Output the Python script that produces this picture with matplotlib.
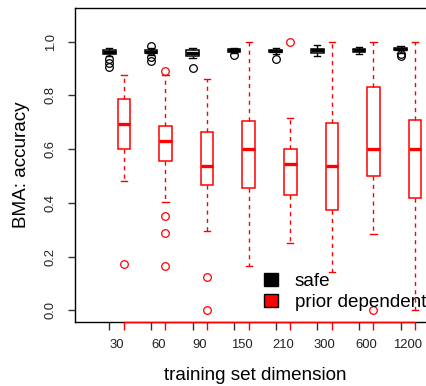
import matplotlib
matplotlib.use("Agg")
import matplotlib.pyplot as plt
from matplotlib.patches import Patch

plt.style.use('default')
plt.rcParams['font.family'] = ['Liberation Sans', 'DejaVu Sans']

categories = ["30", "60", "90", "150", "210", "300", "600", "1200"]

# safe (black) box stats
safe_whislo = [0.945, 0.950, 0.938, 0.958, 0.955, 0.947, 0.954, 0.958]
safe_q1     = [0.955, 0.957, 0.947, 0.962, 0.960, 0.958, 0.962, 0.967]
safe_med    = [0.962, 0.962, 0.957, 0.967, 0.965, 0.967, 0.967, 0.972]
safe_q3     = [0.967, 0.967, 0.969, 0.971, 0.970, 0.974, 0.971, 0.977]
safe_whishi = [0.978, 0.975, 0.975, 0.976, 0.977, 0.987, 0.979, 0.982]
safe_fliers = [[0.934, 0.920, 0.907], [0.985, 0.944, 0.928], [0.901], [0.950],
               [0.935], [], [], [0.947, 0.955]]

# prior dependent (red) box stats
prior_whislo = [0.480, 0.404, 0.294, 0.167, 0.250, 0.143, 0.286, 0.000]
prior_q1     = [0.600, 0.557, 0.465, 0.454, 0.428, 0.374, 0.501, 0.418]
prior_med    = [0.695, 0.632, 0.539, 0.600, 0.545, 0.539, 0.601, 0.601]
prior_q3     = [0.788, 0.688, 0.665, 0.703, 0.600, 0.699, 0.833, 0.709]
prior_whishi = [0.874, 0.874, 0.860, 1.000, 0.715, 1.000, 1.000, 1.000]
prior_fliers = [[0.174], [0.891, 0.350, 0.289, 0.166], [0.124, 0.0], [],
                [1.0], [], [0.0], []]

y_ticks = [0.0, 0.2, 0.4, 0.6, 0.8, 1.0]
y_ticklabels = ["0.0", "0.2", "0.4", "0.6", "0.8", "1.0"]
legend_labels = ["safe", "prior dependent"]
xlabel = "training set dimension"
ylabel = "BMA: accuracy"

W, H = 426, 386
fig = plt.figure(figsize=(W / 100, H / 100), dpi=100)
left_px, right_px, top_px, bottom_px = 75, 450, 8, 322
ax_w_px, ax_h_px = right_px - left_px, bottom_px - top_px
ax = fig.add_axes([left_px / W, 1 - bottom_px / H, ax_w_px / W, ax_h_px / H])

n = len(categories)
centers = list(range(1, n + 1))
off = 0.175
pos_safe = [c - off for c in centers]
pos_prior = [c + off for c in centers]


def make_stats(wl, q1, med, q3, wh, fl):
    return [dict(whislo=a, q1=b, med=c, q3=d, whishi=e, fliers=f)
            for a, b, c, d, e, f in zip(wl, q1, med, q3, wh, fl)]


def draw(stats, positions, color):
    ax.bxp(stats, positions=positions, widths=0.30, showfliers=True,
           patch_artist=True, manage_ticks=False,
           boxprops=dict(facecolor='white', edgecolor=color, linewidth=1.1),
           medianprops=dict(color=color, linewidth=2.4, solid_capstyle='butt'),
           whiskerprops=dict(color=color, linewidth=1.0, linestyle=(0, (3, 3))),
           capprops=dict(color=color, linewidth=1.0),
           flierprops=dict(marker='o', markerfacecolor='none',
                           markeredgecolor=color, markersize=5.5,
                           markeredgewidth=0.9, linestyle='none'))


draw(make_stats(safe_whislo, safe_q1, safe_med, safe_q3, safe_whishi, safe_fliers),
     pos_safe, 'black')
draw(make_stats(prior_whislo, prior_q1, prior_med, prior_q3, prior_whishi, prior_fliers),
     pos_prior, 'red')

ax.set_xlim(0.0, ax_w_px / 41.6)
ax.set_ylim(-0.0428, 1.125)

for s in ['top', 'left', 'bottom']:
    ax.spines[s].set_linewidth(1.0)
    ax.spines[s].set_color('black')
ax.spines['right'].set_visible(False)

# category labels centred between the pair (tick marks drawn separately)
ax.set_xticks(centers)
ax.set_xticklabels(categories, fontsize=9.4, color='#222222')
ax.tick_params(axis='x', length=0, pad=12)

ax.set_yticks(y_ticks)
ax.set_yticklabels(y_ticklabels, rotation=90, va='center', fontsize=9.4,
                   color='#222222')
ax.tick_params(axis='y', length=0, pad=13)

# R-style axis tick marks
tick_len_x = 7.5 / ax_h_px
tick_len_y = 7.5 / ax_w_px
xt = ax.get_xaxis_transform()
yt = ax.get_yaxis_transform()
for p in pos_safe:
    ax.plot([p, p], [0, -tick_len_x], color='#333333', linewidth=1.0,
            transform=xt, clip_on=False, solid_capstyle='butt')
for p in pos_prior:
    ax.plot([p, p], [0, -tick_len_x], color='red', linewidth=1.0,
            transform=xt, clip_on=False, solid_capstyle='butt')
for v in y_ticks:
    ax.plot([0, -tick_len_y], [v, v], color='#333333', linewidth=1.0,
            transform=yt, clip_on=False, solid_capstyle='butt')
ax.plot([pos_prior[0], pos_prior[-1]], [0, 0], color='red', linewidth=1.0,
        transform=xt, clip_on=False, zorder=5)

ax.set_xlabel(xlabel, fontsize=13.6)
ax.set_ylabel(ylabel, fontsize=13.6)
ax.xaxis.set_label_coords((255 - left_px) / ax_w_px, -(375 - bottom_px) / ax_h_px)
ax.yaxis.set_label_coords(-(left_px - 21.7) / ax_w_px, 0.5)
ax.xaxis.label.set_va('center')
ax.yaxis.label.set_va('center')

handles = [Patch(facecolor='black', edgecolor='black'),
           Patch(facecolor='red', edgecolor='black')]
leg = fig.legend(handles, legend_labels, loc='upper left',
                 bbox_to_anchor=(256 / W, 1 - 265 / H), frameon=False,
                 fontsize=13.6, handlelength=0.75, handleheight=0.7,
                 handletextpad=0.9, labelspacing=0.22, borderaxespad=0)

fig.savefig("out.png", dpi=100)
